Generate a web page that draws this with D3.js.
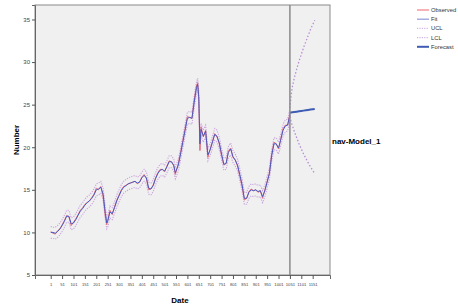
<!DOCTYPE html>
<html>
<head>
<meta charset="utf-8">
<script src="https://cdn.jsdelivr.net/npm/d3@7"></script>
<style>
body { margin: 0; background: #fff; }
text { font-family: "Liberation Sans", Arial, sans-serif; }
</style>
</head>
<body>
<script>
// observed / fitted period
const obsIdx = [1, 11, 21, 31, 41, 51, 61, 71, 81, 91, 101, 111, 121, 131, 141, 151, 161, 171, 181, 191,
  201, 211, 221, 231, 241, 247, 251, 261, 271, 281, 291, 301, 311, 321, 331, 341, 351, 361, 371, 381,
  391, 401, 411, 421, 431, 441, 451, 461, 471, 481, 491, 501, 511, 521, 531, 541, 548, 561, 571, 581,
  591, 601, 611, 621, 631, 641, 646, 651, 656, 661, 671, 681, 691, 701, 711, 721, 731, 741, 751, 761,
  771, 781, 791, 801, 811, 821, 831, 841, 851, 861, 871, 881, 891, 901, 911, 921, 931, 941, 951, 961,
  971, 981, 991, 1001, 1011, 1021, 1031, 1041, 1051];
const observed = [10.1, 9.9, 9.8, 10.2, 10.4, 10.9, 11.4, 12.0, 11.8, 10.8, 11.2, 11.6, 12.1, 12.6, 12.9, 13.3, 13.5, 13.7, 14.1, 14.5,
  15.2, 15.0, 15.4, 14.2, 11.8, 10.9, 11.4, 12.6, 12.1, 13.0, 13.8, 14.4, 15.0, 15.4, 15.5, 15.7, 15.8, 15.9, 16.0, 15.7,
  15.9, 16.5, 16.8, 16.3, 15.0, 15.1, 15.6, 16.4, 17.0, 17.4, 17.4, 17.1, 17.8, 18.4, 18.3, 17.8, 16.8, 18.1, 19.4, 20.8,
  22.2, 23.6, 23.5, 23.4, 25.6, 27.2, 27.6, 25.6, 19.6, 22.4, 21.2, 22.0, 18.8, 19.8, 20.7, 21.6, 21.2, 20.4, 19.0, 17.9,
  18.1, 19.6, 19.9, 18.8, 18.5, 17.8, 16.6, 15.4, 13.8, 14.0, 14.8, 15.1, 14.9, 15.0, 14.7, 14.9, 14.0, 15.0, 16.0, 17.0,
  19.2, 20.6, 20.4, 19.8, 21.0, 22.2, 22.6, 22.6, 24.0];
const fit = [10.0, 10.0, 9.9, 10.1, 10.4, 10.8, 11.3, 11.9, 11.9, 11.0, 11.1, 11.5, 12.0, 12.5, 12.8, 13.2, 13.5, 13.7, 14.0, 14.4,
  15.0, 15.1, 15.3, 14.5, 12.2, 11.1, 11.3, 12.4, 12.2, 12.9, 13.7, 14.3, 14.9, 15.3, 15.5, 15.7, 15.8, 15.9, 16.0, 15.8,
  15.9, 16.4, 16.7, 16.4, 15.2, 15.1, 15.5, 16.3, 16.9, 17.3, 17.4, 17.2, 17.7, 18.3, 18.3, 17.9, 17.0, 17.9, 19.2, 20.6,
  22.0, 23.4, 23.5, 23.4, 25.3, 27.0, 27.4, 25.9, 20.4, 22.1, 21.3, 21.9, 19.1, 19.7, 20.6, 21.5, 21.3, 20.5, 19.2, 18.0,
  18.1, 19.4, 19.8, 18.9, 18.5, 17.9, 16.8, 15.6, 14.0, 14.0, 14.7, 15.0, 14.9, 15.0, 14.8, 14.9, 14.2, 14.9, 15.9, 16.9,
  19.0, 20.4, 20.4, 19.9, 20.9, 22.0, 22.5, 22.6, 23.8];
const ucl = [10.7, 10.6, 10.6, 10.8, 11.1, 11.5, 12.0, 12.6, 12.6, 11.7, 11.8, 12.2, 12.7, 13.2, 13.5, 13.9, 14.2, 14.4, 14.7, 15.1,
  15.7, 15.8, 16.0, 15.2, 12.9, 11.8, 12.0, 13.1, 12.9, 13.6, 14.4, 15.0, 15.6, 16.0, 16.2, 16.4, 16.5, 16.6, 16.7, 16.5,
  16.6, 17.1, 17.4, 17.1, 15.9, 15.8, 16.2, 17.0, 17.6, 18.0, 18.1, 17.9, 18.4, 19.0, 19.0, 18.6, 17.7, 18.6, 19.9, 21.3,
  22.7, 24.1, 24.2, 24.1, 26.0, 27.7, 28.1, 26.6, 21.1, 22.8, 22.0, 22.6, 19.8, 20.4, 21.3, 22.2, 22.0, 21.2, 19.9, 18.7,
  18.8, 20.1, 20.5, 19.6, 19.2, 18.6, 17.5, 16.3, 14.7, 14.7, 15.4, 15.7, 15.6, 15.7, 15.5, 15.6, 14.9, 15.6, 16.6, 17.6,
  19.7, 21.1, 21.1, 20.6, 21.6, 22.7, 23.2, 23.3, 24.5];
const lcl = [9.3, 9.3, 9.2, 9.4, 9.7, 10.1, 10.6, 11.2, 11.2, 10.3, 10.4, 10.8, 11.3, 11.8, 12.1, 12.5, 12.8, 13.0, 13.3, 13.7,
  14.3, 14.4, 14.6, 13.8, 11.5, 10.4, 10.6, 11.7, 11.5, 12.2, 13.0, 13.6, 14.2, 14.6, 14.8, 15.0, 15.1, 15.2, 15.3, 15.1,
  15.2, 15.7, 16.0, 15.7, 14.5, 14.4, 14.8, 15.6, 16.2, 16.6, 16.7, 16.5, 17.0, 17.6, 17.6, 17.2, 16.3, 17.2, 18.5, 19.9,
  21.3, 22.7, 22.8, 22.7, 24.6, 26.3, 26.7, 25.2, 19.7, 21.4, 20.6, 21.2, 18.4, 19.0, 19.9, 20.8, 20.6, 19.8, 18.5, 17.3,
  17.4, 18.7, 19.1, 18.2, 17.8, 17.2, 16.1, 14.9, 13.3, 13.3, 14.0, 14.3, 14.2, 14.3, 14.1, 14.2, 13.5, 14.2, 15.2, 16.2,
  18.3, 19.7, 19.7, 19.2, 20.2, 21.3, 21.8, 21.9, 23.1];

// forecast period
const fcIdx = [1051, 1056, 1061, 1071, 1081, 1091, 1101, 1111, 1121, 1131, 1141, 1151, 1160];
const forecast = [24.05, 24.08, 24.1, 24.14, 24.18, 24.22, 24.26, 24.3, 24.34, 24.38, 24.42, 24.46, 24.5];
const fcUcl = [24.6, 26.0, 27.0, 28.2, 29.2, 30.1, 30.9, 31.7, 32.4, 33.1, 33.8, 34.4, 34.9];
const fcLcl = [23.6, 23.0, 22.6, 21.8, 21.1, 20.4, 19.8, 19.2, 18.7, 18.2, 17.7, 17.3, 16.9];

const xTicks = d3.range(1, 1152, 50);
const yTicks = [5, 10, 15, 20, 25, 30, 35];
const legendItems = ["Observed", "Fit", "UCL", "LCL", "Forecast"];
const modelName = "nav-Model_1";

const width = 458, height = 308;
const plotLeft = 35, plotRight = 330, plotTop = 5, plotBottom = 275;

const svg = d3.select("body").append("svg")
  .attr("width", width).attr("height", height);

const x = d3.scaleLinear().domain([-68, 1227]).range([plotLeft, plotRight]);
const y = d3.scaleLinear().domain([5, 36.7]).range([plotBottom, plotTop]);

svg.append("rect")
  .attr("x", plotLeft).attr("y", plotTop)
  .attr("width", plotRight - plotLeft).attr("height", plotBottom - plotTop)
  .attr("fill", "#f0f0f0").attr("stroke", "#8a8a8a").attr("stroke-width", 1);

// y axis
const yAxis = svg.append("g").attr("transform", `translate(${plotLeft},0)`)
  .call(d3.axisLeft(y).tickValues(yTicks).tickSize(3).tickPadding(2));
yAxis.select(".domain").attr("stroke", "#666");
yAxis.selectAll("line").attr("stroke", "#555");
yAxis.selectAll("text").attr("font-size", 6).attr("fill", "#444")
  .style("font-family", "Liberation Sans, Arial, sans-serif");

// x axis
const xAxis = svg.append("g").attr("transform", `translate(0,${plotBottom})`)
  .call(d3.axisBottom(x).tickValues(xTicks).tickFormat(d3.format("d")).tickSize(4).tickPadding(4));
xAxis.select(".domain").attr("stroke", "#666");
xAxis.selectAll("line").attr("stroke", "#555");
xAxis.selectAll("text").attr("font-size", 4.2).attr("fill", "#444")
  .style("font-family", "Liberation Sans, Arial, sans-serif");

const line = (idx) => d3.line()
  .x((d, i) => x(idx[i]))
  .y(d => y(d));

const g = svg.append("g");

g.append("path").datum(ucl)
  .attr("d", line(obsIdx)).attr("fill", "none")
  .attr("stroke", "#c9a3df").attr("stroke-width", 1.1).attr("stroke-dasharray", "1.2,1.2");
g.append("path").datum(lcl)
  .attr("d", line(obsIdx)).attr("fill", "none")
  .attr("stroke", "#c9a3df").attr("stroke-width", 1.1).attr("stroke-dasharray", "1.2,1.2");
g.append("path").datum(observed)
  .attr("d", line(obsIdx)).attr("fill", "none")
  .attr("stroke", "#e8707a").attr("stroke-width", 1);
g.append("path").datum(fit)
  .attr("d", line(obsIdx)).attr("fill", "none")
  .attr("stroke", "#4b58c0").attr("stroke-width", 1);

g.append("path").datum(fcUcl)
  .attr("d", line(fcIdx)).attr("fill", "none")
  .attr("stroke", "#b88ed3").attr("stroke-width", 1.3).attr("stroke-dasharray", "1.5,2");
g.append("path").datum(fcLcl)
  .attr("d", line(fcIdx)).attr("fill", "none")
  .attr("stroke", "#b88ed3").attr("stroke-width", 1.3).attr("stroke-dasharray", "1.5,2");
g.append("path").datum(forecast)
  .attr("d", line(fcIdx)).attr("fill", "none")
  .attr("stroke", "#3f5cb5").attr("stroke-width", 2);

// reference line at forecast start
svg.append("line")
  .attr("x1", x(fcIdx[0])).attr("x2", x(fcIdx[0]))
  .attr("y1", plotTop).attr("y2", plotBottom)
  .attr("stroke", "#8a8a8a").attr("stroke-width", 1.5);

// axis titles
svg.append("text")
  .attr("transform", `translate(19,${(plotTop + plotBottom) / 2}) rotate(-90)`)
  .attr("text-anchor", "middle").attr("font-size", 8).attr("font-weight", "bold")
  .text("Number");
svg.append("text")
  .attr("x", 180).attr("y", 303)
  .attr("text-anchor", "middle").attr("font-size", 8).attr("font-weight", "bold")
  .text("Date");

svg.append("text")
  .attr("x", 332).attr("y", 144)
  .attr("font-size", 8).attr("font-weight", "bold")
  .text(modelName);

// legend
const legendStyle = [
  { color: "#f07f86", dash: null, w: 1.2 },
  { color: "#8f9ad6", dash: null, w: 1.2 },
  { color: "#d3b3e6", dash: "1.2,1.2", w: 1.1 },
  { color: "#d3b3e6", dash: "1.2,1.2", w: 1.1 },
  { color: "#3f5cb5", dash: null, w: 2 }
];
const legend = svg.append("g");
legendItems.forEach((name, i) => {
  const ly = 10 + i * 9.2;
  legend.append("line")
    .attr("x1", 417).attr("x2", 429).attr("y1", ly).attr("y2", ly)
    .attr("stroke", legendStyle[i].color).attr("stroke-width", legendStyle[i].w)
    .attr("stroke-dasharray", legendStyle[i].dash);
  legend.append("text")
    .attr("x", 431).attr("y", ly + 2)
    .attr("font-size", 5.8).attr("fill", "#333")
    .text(name);
});
</script>
</body>
</html>
